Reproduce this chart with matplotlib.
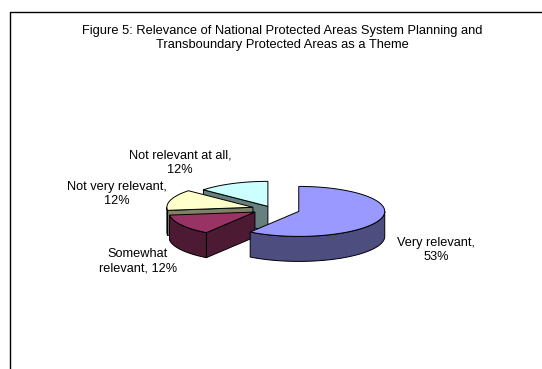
import textwrap
import numpy as np
import matplotlib.pyplot as plt
from matplotlib.patches import Polygon

plt.rcParams['font.family'] = ['Liberation Sans', 'DejaVu Sans']

title = ("Figure 5: Relevance of National Protected Areas System Planning and\n"
         "Transboundary Protected Areas as a Theme")
categories = ['Very relevant', 'Somewhat relevant', 'Not very relevant', 'Not relevant at all']
shares = [0.53, 0.12, 0.12, 0.12]
wrap_width = [14, 14, 18, 20]

top_colors = ['#9999FF', '#993366', '#FFFFCC', '#CCFFFF']
side_colors = ['#4D4D80', '#4D1A33', '#808066', '#668080']

# pie layout in pixel units (y grows downward)
cx, cy = 272, 209
rx, ry = 86, 25
depth = 25
explode = [28, 20, 20, 10]
label_pos = [(436, 250), (138, 261), (117, 194), (180, 163)]

fig = plt.figure(figsize=(5.42, 3.69), dpi=100)
ax = fig.add_axes([0, 0, 1, 1])
ax.set_xlim(0, 542)
ax.set_ylim(369, 0)
ax.axis('off')

# frame around the chart area
ax.plot([10, 10, 560], [380, 12, 12], color='black', lw=1)

ax.text(282, 38, title, ha='center', va='center', fontsize=9.3, linespacing=1.16)


def on_rim(c, th, dy=0):
    return (c[0] + rx * np.sin(th), c[1] - ry * np.cos(th) + dy)


frac = np.array(shares) / sum(shares)
ends = np.cumsum(frac) * 2 * np.pi
starts = ends - frac * 2 * np.pi

slices = []
for i in range(len(shares)):
    t0, t1 = starts[i], ends[i]
    mid = (t0 + t1) / 2
    c = (cx + explode[i] * np.sin(mid), cy - explode[i] * np.cos(mid) * ry / rx)
    th = np.linspace(t0, t1, 80)
    rim = [on_rim(c, t) for t in th]
    front = max(p[1] for p in [c] + rim)
    slices.append((front, i, c, t0, t1, th, rim))

ec = dict(edgecolor='black', lw=0.7)
for front, i, c, t0, t1, th, rim in sorted(slices):
    # radial walls that face the viewer
    for t, visible in ((t0, np.sin(t0) < -1e-6), (t1, np.sin(t1) > 1e-6)):
        if visible:
            p = on_rim(c, t)
            wall = [c, p, (p[0], p[1] + depth), (c[0], c[1] + depth)]
            ax.add_patch(Polygon(wall, closed=True, facecolor=side_colors[i], **ec))
    # outer curved wall, front half only
    lo, hi = max(t0, np.pi / 2), min(t1, 3 * np.pi / 2)
    if hi > lo:
        tt = np.linspace(lo, hi, 80)
        upper = [on_rim(c, t) for t in tt]
        lower = [on_rim(c, t, depth) for t in tt[::-1]]
        ax.add_patch(Polygon(upper + lower, closed=True, facecolor=side_colors[i], **ec))
    ax.add_patch(Polygon([c] + rim, closed=True, facecolor=top_colors[i], **ec))

for i, name in enumerate(categories):
    txt = textwrap.fill(f"{name}, {round(shares[i] * 100)}%", wrap_width[i])
    ax.text(label_pos[i][0], label_pos[i][1], txt, ha='center', va='center',
            fontsize=9.2, linespacing=1.25)

fig.savefig('out.png', dpi=100)
